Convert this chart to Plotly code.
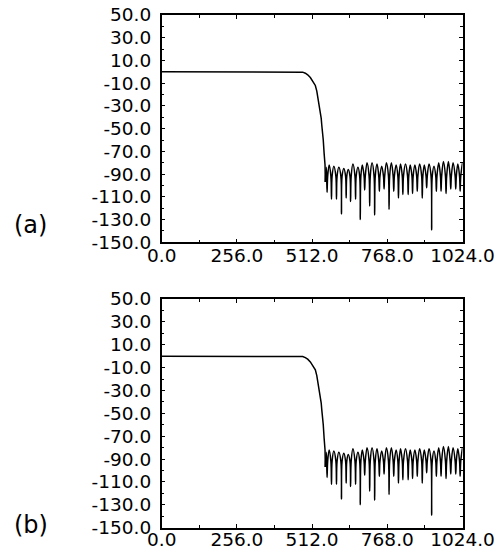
import plotly.graph_objects as go

# ---- data (frequency bin vs magnitude in dB) ----
pass_x = [0, 256, 472, 480, 489, 497, 506, 514, 523, 528, 533, 537, 540, 543,
          545, 548, 550, 553, 556, 557]
pass_db = [0, 0, 0, -0.3, -1.2, -2.6, -5, -8, -12, -17, -24, -30, -35, -41,
           -47, -54, -60, -72, -82, -97]

# stopband: lobe peaks, lobe sides and nulls
stop_x = [557, 560, 561.5, 563, 565, 570, 576, 578, 580, 586, 593, 595, 597, 603, 610,
          612, 614, 620, 626, 628, 630, 635, 641, 643, 645, 651, 658, 660, 662,
          668, 674, 676, 678, 683, 689, 691, 693, 699, 706, 708, 710, 716, 723,
          725, 727, 733, 739, 741, 743, 749, 755, 757, 759, 765, 772, 774, 776,
          782, 788, 790, 792, 798, 804, 806, 808, 813, 819, 821, 823, 830, 837,
          839, 841, 846, 852, 854, 856, 862, 868, 870, 872, 878, 885, 887, 889,
          894, 900, 902, 904, 910, 917, 919, 921, 927, 933, 935, 937, 943, 949,
          951, 953, 959, 966, 968, 970, 976, 982, 984, 986, 992, 999, 1001, 1003,
          1008, 1014, 1016, 1018, 1024]
stop_db = [-97, -84, -92, -106, -92, -82, -92, -112, -92, -83, -92, -112, -92, -84, -92,
           -125, -92, -85, -92, -111, -92, -86, -92, -114, -92, -81, -92, -112, -92,
           -84, -92, -130, -92, -82, -92, -104, -92, -80, -92, -118, -92, -80, -92,
           -126, -92, -81, -92, -105, -92, -83, -92, -103, -92, -80, -92, -121, -92,
           -80, -92, -105, -92, -82, -92, -111, -92, -81, -92, -108, -92, -81, -92,
           -108, -92, -82, -92, -107, -92, -82, -92, -105, -92, -81, -92, -111, -92,
           -82, -92, -102, -92, -81, -92, -139, -92, -83, -92, -105, -92, -80, -92,
           -105, -92, -79, -92, -107, -92, -79, -92, -103, -92, -80, -92, -103, -92,
           -81, -92, -105, -92, -80]

x_ticks = [0, 256, 512, 768, 1024]
y_ticks = [50, 30, 10, -10, -30, -50, -70, -90, -110, -130, -150]
panel_labels = ["(a)", "(b)"]

W, H = 497, 550
FONT = "DejaVu Sans"

def px(x):
    return x / W

def py(y):
    return (H - y) / H

fig = go.Figure()
for i in range(2):
    xa = "x" if i == 0 else "x2"
    ya = "y" if i == 0 else "y2"
    fig.add_trace(go.Scatter(
        x=pass_x, y=pass_db, mode="lines",
        line=dict(color="black", width=1.5, shape="linear"),
        xaxis=xa, yaxis=ya, showlegend=False, hoverinfo="skip"))
    fig.add_trace(go.Scatter(
        x=stop_x, y=stop_db, mode="lines",
        line=dict(color="black", width=1.5, shape="spline", smoothing=1),
        xaxis=xa, yaxis=ya, showlegend=False, hoverinfo="skip"))

xdom = [px(161.7), px(462.5)]
ydoms = [[py(242.3), py(15)], [py(527.7), py(299)]]

def xax(anchor, standoff):
    return dict(domain=xdom, range=[0, 1024], anchor=anchor, automargin=False,
                tickmode="array", tickvals=x_ticks,
                ticktext=[f"{v:.1f}" for v in x_ticks],
                ticks="inside", ticklen=4, tickwidth=1, tickcolor="black",
                minor=dict(dtick=128, tick0=0, ticks="inside", ticklen=3,
                           tickwidth=1, tickcolor="black"),
                showline=True, linecolor="black", linewidth=1.5, mirror="ticks",
                showgrid=False, zeroline=False, ticklabelstandoff=standoff,
                ticklabeloverflow="allow",
                tickfont=dict(family=FONT, size=18.5, color="black"))

def yax(dom, anchor):
    return dict(domain=dom, range=[-150, 50], anchor=anchor, automargin=False,
                tickmode="array", tickvals=y_ticks,
                ticktext=[f"{v:.1f}" for v in y_ticks],
                ticks="inside", ticklen=4, tickwidth=1, tickcolor="black",
                minor=dict(dtick=10, tick0=0, ticks="inside", ticklen=3,
                           tickwidth=1, tickcolor="black"),
                showline=True, linecolor="black", linewidth=1.5, mirror="ticks",
                showgrid=False, zeroline=False, ticklabelstandoff=5,
                ticklabeloverflow="allow",
                tickfont=dict(family=FONT, size=18.5, color="black"))

fig.update_layout(
    width=W, height=H, autosize=False,
    margin=dict(l=0, r=0, t=0, b=0, autoexpand=False),
    paper_bgcolor="white", plot_bgcolor="white",
    xaxis=xax("y", -4), yaxis=yax(ydoms[0], "x"),
    xaxis2=xax("y2", -6), yaxis2=yax(ydoms[1], "x2"),
    annotations=[
        dict(text=panel_labels[0], x=px(30.5), y=py(225), xref="paper", yref="paper",
             showarrow=False, xanchor="center", yanchor="middle",
             font=dict(family=FONT, size=24, color="black")),
        dict(text=panel_labels[1], x=px(30.5), y=py(525), xref="paper", yref="paper",
             showarrow=False, xanchor="center", yanchor="middle",
             font=dict(family=FONT, size=24, color="black")),
    ],
)

fig.write_html(
    "out.html",
    config={"displayModeBar": False},
    post_script="document.body.style.margin='0';document.body.style.overflow='hidden';",
)
